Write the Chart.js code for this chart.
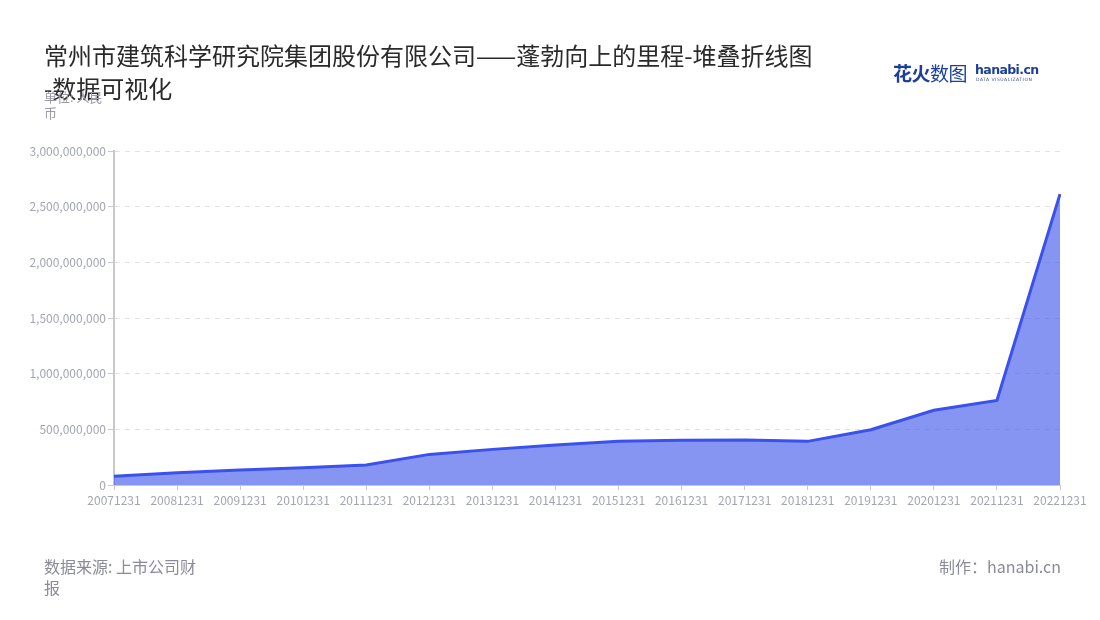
<!DOCTYPE html>
<html>
<head>
<meta charset="utf-8">
<script src="https://cdn.jsdelivr.net/npm/chart.js@4"></script>
<style>
  html, body { margin: 0; padding: 0; background: #fff; }
  #wrap { position: relative; width: 1100px; height: 620px; overflow: hidden; font-family: "Noto Sans CJK SC", "Noto Sans", sans-serif; }
  #chart { position: absolute; left: 0; top: 0; }
  .title { position: absolute; left: 44px; top: 38px; font-size: 24px; line-height: 33px; color: #2a2a2a; white-space: nowrap; }
  .unit { position: absolute; left: 44px; top: 89px; font-size: 13px; line-height: 16px; color: #9a9aa6; white-space: nowrap; }
  .source { position: absolute; left: 44px; top: 556px; font-size: 16px; line-height: 21px; color: #8a8a99; white-space: nowrap; }
  .credit { position: absolute; right: 39px; top: 556px; font-size: 16px; line-height: 21px; color: #8a8a99; white-space: nowrap; }
  .logo { position: absolute; left: 893px; top: 60px; height: 26px; white-space: nowrap; color: #1d3f9a; }
  .logo .cn { font-size: 19px; line-height: 26px; font-weight: bold; letter-spacing: -0.5px; }
  .logo .cn span { font-weight: normal; }
  .logo .en { position: absolute; left: 82px; top: 2px; font-family: "DejaVu Sans", sans-serif; font-size: 12.5px; font-weight: bold; line-height: 15px; letter-spacing: -0.6px; }
  .logo .dv { position: absolute; left: 83px; top: 17px; font-family: "DejaVu Sans", sans-serif; font-size: 4.5px; line-height: 6px; letter-spacing: 0.5px; color: #3b4e9c; }
</style>
</head>
<body>
<div id="wrap">
  <canvas id="chart" width="1100" height="620"></canvas>
  <div class="title">常州市建筑科学研究院集团股份有限公司——蓬勃向上的里程-堆叠折线图<br>-数据可视化</div>
  <div class="unit">单位: 人民<br>币</div>
  <div class="logo"><div class="cn">花火<span>数图</span></div><div class="en">hanabi.cn</div><div class="dv">DATA VISUALIZATION</div></div>
  <div class="source">数据来源: 上市公司财<br>报</div>
  <div class="credit">制作：hanabi.cn</div>
</div>
<script>
const dates = ['20071231', '20081231', '20091231', '20101231', '20111231', '20121231', '20131231', '20141231',
    '20151231', '20161231', '20171231', '20181231', '20191231', '20201231', '20211231', '20221231']
const revenue = [78000000, 110000000, 135000000, 155000000, 180000000, 275000000, 320000000, 360000000,
    392000000, 401000000, 404000000, 392000000, 497000000, 671000000, 760000000, 2613000000]
const seriesName = '营业收入'
const yMax = 3000000000
const yStep = 500000000

const tickFont = { family: '"Noto Sans CJK SC", "Noto Sans", sans-serif', size: 12 }
const tickColor = '#a3a6b1'

const ctx = document.querySelector('#chart').getContext('2d')
const chart = new Chart(ctx, {
    type: 'line',
    data: {
        labels: dates,
        datasets: [{
            label: seriesName,
            data: revenue,
            borderColor: '#3a51ee',
            backgroundColor: 'rgba(59, 84, 232, 0.62)',
            borderWidth: 3,
            pointRadius: 0,
            fill: 'origin',
            tension: 0
        }]
    },
    options: {
        responsive: false,
        animation: false,
        layout: {
            padding: { left: 0, top: 151, right: 40, bottom: 0 }
        },
        scales: {
            x: {
                offset: false,
                grid: {
                    drawOnChartArea: false,
                    drawTicks: true,
                    tickLength: 5,
                    color: '#c8c8cc'
                },
                border: { color: '#c8c8cc', width: 1 },
                ticks: {
                    autoSkip: false,
                    maxRotation: 0,
                    padding: 3,
                    color: tickColor,
                    font: tickFont
                },
                afterFit: (scale) => { scale.height = 135 }
            },
            y: {
                min: 0,
                max: yMax,
                grid: {
                    color: '#e2e2e6',
                    tickColor: '#c8c8cc',
                    tickLength: 6
                },
                border: { color: '#c8c8cc', width: 2, dash: [5, 5] },
                ticks: {
                    stepSize: yStep,
                    padding: 2,
                    color: tickColor,
                    font: tickFont,
                    callback: (v) => v.toLocaleString('en-US')
                },
                afterFit: (scale) => { scale.width = 114 }
            }
        },
        plugins: {
            legend: { display: false },
            title: { display: false },
            tooltip: { enabled: false }
        }
    }
})
</script>
</body>
</html>
